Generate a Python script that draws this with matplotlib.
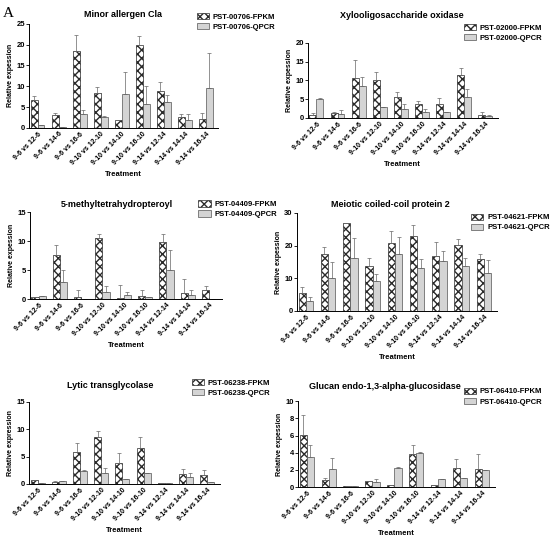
import numpy as np
import matplotlib
matplotlib.use("Agg")
import matplotlib.pyplot as plt

plt.rcParams['font.family'] = ['Liberation Sans', 'DejaVu Sans']
plt.rcParams['hatch.linewidth'] = 1.0

# treatments on the x axis
treatments = ["9-6 vs 12-6", "9-6 vs 14-6", "9-6 vs 16-6",
              "9-10 vs 12-10", "9-10 vs 14-10", "9-10 vs 16-10",
              "9-14 vs 12-14", "9-14 vs 14-14", "9-14 vs 16-14"]

# Minor allergen Cla
p1_fpkm = [6.6, 3.0, 18.4, 8.3, 1.8, 19.8, 8.8, 2.5, 2.1]
p1_fpkm_err = [1.0, 0.5, 3.8, 1.6, 0.2, 2.2, 2.1, 0.8, 1.4]
p1_qpcr = [0.6, 0.1, 3.4, 2.6, 8.1, 5.7, 6.3, 1.8, 9.5]
p1_qpcr_err = [0.1, 0.0, 0.9, 0.2, 5.2, 4.3, 1.7, 1.5, 8.5]

# Xylooligosaccharide oxidase
p2_fpkm = [0.9, 1.2, 10.7, 10.0, 5.5, 3.6, 3.6, 11.5, 0.7]
p2_fpkm_err = [0.3, 0.4, 4.7, 2.3, 1.3, 1.0, 1.7, 1.9, 0.8]
p2_qpcr = [5.1, 1.0, 8.6, 2.9, 2.5, 1.6, 1.5, 5.5, 0.6]
p2_qpcr_err = [0.1, 1.0, 2.3, 0.1, 1.2, 0.9, 0.0, 2.2, 0.05]

# 5-methyltetrahydropteroyl
p3_fpkm = [0.3, 7.6, 0.4, 10.5, 0.2, 0.6, 9.8, 1.0, 1.6]
p3_fpkm_err = [0.1, 1.8, 1.2, 0.7, 2.2, 0.9, 1.5, 2.5, 0.7]
p3_qpcr = [0.5, 2.9, 0.1, 1.3, 0.8, 0.4, 5.0, 0.8, 0.1]
p3_qpcr_err = [0.1, 2.2, 0.0, 0.9, 0.4, 0.0, 3.4, 0.7, 0.0]

# Meiotic coiled-coil protein 2
p4_fpkm = [5.5, 17.3, 27.0, 13.8, 20.7, 22.8, 16.8, 20.3, 15.8]
p4_fpkm_err = [1.7, 2.4, 0.0, 2.5, 3.9, 3.4, 4.2, 1.7, 1.5]
p4_qpcr = [3.1, 10.1, 16.2, 9.3, 17.4, 13.1, 15.4, 13.9, 11.7]
p4_qpcr_err = [1.1, 5.0, 6.0, 2.0, 5.3, 2.8, 3.0, 2.2, 3.8]

# Lytic transglycolase
p5_fpkm = [0.7, 0.3, 5.9, 8.6, 3.9, 6.5, 0.2, 1.8, 1.7]
p5_fpkm_err = [0.1, 0.2, 1.5, 1.0, 1.8, 2.0, 0.0, 1.0, 0.8]
p5_qpcr = [0.2, 0.5, 2.4, 2.0, 1.0, 2.0, 0.1, 1.2, 0.3]
p5_qpcr_err = [0.0, 0.0, 0.1, 0.9, 0.0, 0.0, 0.0, 0.9, 0.1]

# Glucan endo-1,3-alpha-glucosidase
p6_fpkm = [6.1, 0.8, 0.1, 0.7, 0.2, 3.9, 0.2, 2.2, 2.1]
p6_fpkm_err = [2.3, 0.3, 0.0, 0.05, 0.1, 1.0, 0.0, 1.1, 1.7]
p6_qpcr = [3.5, 2.1, 0.1, 0.6, 2.2, 4.0, 0.9, 1.1, 2.0]
p6_qpcr_err = [1.4, 1.3, 0.0, 0.3, 0.1, 0.1, 0.05, 0.0, 0.0]

panels = [
    # title, gene, ylabel, fpkm, fpkm_err, qpcr, qpcr_err, ymax, ystep,
    # axes rect, title position, legend anchor
    ("Minor allergen Cla", "PST-00706", "Relative expession",
     p1_fpkm, p1_fpkm_err, p1_qpcr, p1_qpcr_err, 25, 5,
     [0.053, 0.768, 0.344, 0.189], (0.224, 0.973), (0.352, 0.982)),
    ("Xylooligosaccharide oxidase", "PST-02000", "Relative expession",
     p2_fpkm, p2_fpkm_err, p2_qpcr, p2_qpcr_err, 20, 5,
     [0.560, 0.786, 0.345, 0.136], (0.731, 0.971), (0.838, 0.962)),
    ("5-methyltetrahydropteroyl", "PST-04409", "Relative expession",
     p3_fpkm, p3_fpkm_err, p3_qpcr, p3_qpcr_err, 15, 5,
     [0.0545, 0.457, 0.349, 0.158], (0.213, 0.628), (0.355, 0.642)),
    ("Meiotic coiled-coil protein 2", "PST-04621", "Relative expession",
     p4_fpkm, p4_fpkm_err, p4_qpcr, p4_qpcr_err, 30, 10,
     [0.540, 0.4356, 0.364, 0.178], (0.709, 0.628), (0.851, 0.618)),
    ("Lytic transglycolase", "PST-06238", "Relative expression",
     p5_fpkm, p5_fpkm_err, p5_qpcr, p5_qpcr_err, 15, 5,
     [0.053, 0.1216, 0.347, 0.149], (0.200, 0.300), (0.343, 0.318)),
    ("Glucan endo-1,3-alpha-glucosidase", "PST-06410", "Relative expession",
     p6_fpkm, p6_fpkm_err, p6_qpcr, p6_qpcr_err, 10, 2,
     [0.542, 0.116, 0.358, 0.156], (0.700, 0.298), (0.838, 0.302)),
]

fig = plt.figure(figsize=(5.5, 5.51), dpi=100)

x = np.arange(len(treatments))
w = 0.33

for title, gene, ylab, fp, fpe, qp, qpe, ymax, ystep, rect, tpos, lanchor in panels:
    ax = fig.add_axes(rect)
    b1 = ax.bar(x + 0.07, fp, w, align='edge', color='white', edgecolor='#2a2a2a',
                hatch='xxxx', linewidth=0.5, label=gene + "-FPKM")
    b2 = ax.bar(x + 0.07 + w, qp, w, align='edge', color='#d4d4d4', edgecolor='#555555',
                linewidth=0.5, label=gene + "-QPCR")
    # error bars (upper only)
    ax.errorbar(x + 0.07 + w / 2, fp, yerr=[np.zeros(len(fp)), fpe], fmt='none',
                ecolor='#666666', elinewidth=0.5, capsize=1.2, capthick=0.5)
    ax.errorbar(x + 0.07 + 1.5 * w, qp, yerr=[np.zeros(len(qp)), qpe], fmt='none',
                ecolor='#666666', elinewidth=0.5, capsize=1.2, capthick=0.5)

    ax.set_xlim(0, len(treatments))
    ax.set_ylim(0, ymax)
    ax.set_yticks(np.arange(0, ymax + 0.1, ystep))
    ax.set_xticks(x + 0.4)
    ax.set_xticklabels(treatments, rotation=45, ha='right', rotation_mode='anchor',
                       fontsize=5, fontweight='bold')
    for lab in ax.get_yticklabels():
        lab.set_fontsize(5.5)
        lab.set_fontweight('bold')
    ax.tick_params(axis='y', length=2, width=0.6, pad=1)
    ax.tick_params(axis='x', length=0, pad=2)
    ax.spines['top'].set_visible(False)
    ax.spines['right'].set_visible(False)
    ax.spines['left'].set_linewidth(0.7)
    ax.spines['bottom'].set_linewidth(0.7)
    ax.set_ylabel(ylab, fontsize=5, fontweight='bold', labelpad=2)
    ax.set_xlabel("Treatment", fontsize=5.5, fontweight='bold', labelpad=3)
    fig.text(tpos[0], tpos[1], title, fontsize=6.5, fontweight='bold',
             ha='center', va='center')

    fig.legend(handles=[b1, b2], loc='upper left', bbox_to_anchor=lanchor,
               frameon=False, handlelength=1.6, handleheight=0.9,
               handletextpad=0.5, labelspacing=0.3, borderaxespad=0,
               prop={'size': 5.5, 'weight': 'bold'})

fig.text(0.005, 0.975, "A", fontsize=11, family='Liberation Serif', va='center')

fig.savefig("out.png", dpi=100)
